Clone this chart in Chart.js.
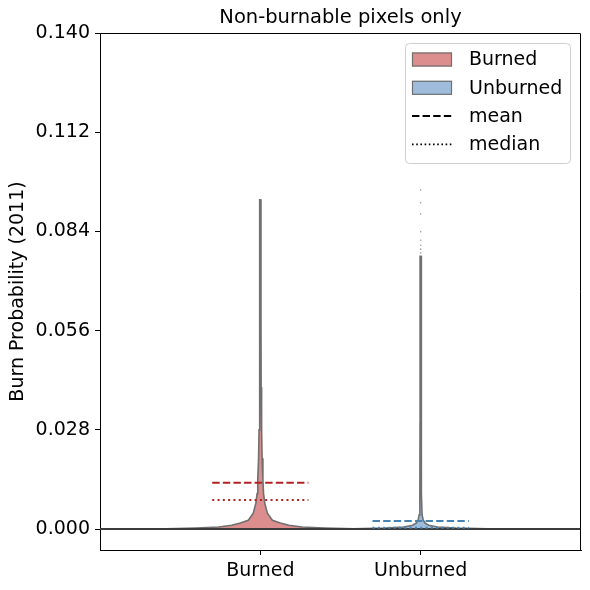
<!DOCTYPE html>
<html lang="en">
<head>
  <meta charset="UTF-8" />
  <title>Non-burnable pixels only</title>
  <script src="https://cdn.jsdelivr.net/npm/chart.js@4"></script>
  <style>
    html, body { margin: 0; padding: 0; background: #fff; }
    #wrap { width: 590px; height: 590px; }
  </style>
</head>
<body>

  <div id="wrap"><canvas id="violin"></canvas></div>

  <script>
    // values
    const categories = ['Burned', 'Unburned'];
    const yTicks = [0, 0.028, 0.056, 0.084, 0.112, 0.140];

    // violin outline: probability level -> half width (in category units)
    const burnedLevels = [0, 0.0003, 0.0006, 0.0011, 0.0017, 0.0025, 0.0045, 0.0073, 0.0100, 0.0140, 0.0200, 0.0280, 0.0400, 0.0600, 0.0800, 0.0929];
    const burnedHalfWidth = [0.65, 0.40, 0.26, 0.178, 0.125, 0.075, 0.044, 0.028, 0.020, 0.016, 0.011, 0.008, 0.005, 0.004, 0.004, 0.003];
    const unburnedLevels = [0, 0.0003, 0.0006, 0.0011, 0.0017, 0.0025, 0.0040, 0.0100, 0.0300, 0.0600, 0.0770];
    const unburnedHalfWidth = [0.49, 0.22, 0.106, 0.05, 0.028, 0.016, 0.009, 0.005, 0.004, 0.004, 0.003];
    const unburnedOutliers = [0.0779, 0.0790, 0.0801, 0.0815, 0.0839, 0.0889, 0.0921, 0.0957];

    const means = [0.0131, 0.0023];
    const medians = [0.0082, 0.0004];

    const legendLabels = ['Burned', 'Unburned', 'mean', 'median'];

    const fills = ['rgba(205,92,92,0.7)', 'rgba(120,160,205,0.7)'];
    const lineColors = ['#b22222', '#4682b4'];
    const edge = '#707070';
    const FONT = 'DejaVu Sans';

    function violinShape(center, levels, hw) {
      const left = levels.map((v, i) => ({ x: center - hw[i], y: v }));
      const right = levels.map((v, i) => ({ x: center + hw[i], y: v })).reverse();
      return left.concat(right);
    }

    function hLine(center, v) {
      return [{ x: center - 0.3, y: v }, { x: center + 0.3, y: v }];
    }

    const datasets = [];
    categories.forEach((c, i) => {
      datasets.push({
        label: c + ' mean', data: hLine(i, means[i]), showLine: true,
        borderColor: lineColors[i], borderWidth: 2, borderDash: [7.4, 3.2],
        pointRadius: 0, order: 0
      });
      datasets.push({
        label: c + ' median', data: hLine(i, medians[i]), showLine: true,
        borderColor: lineColors[i], borderWidth: 2, borderDash: [2, 3.3],
        pointRadius: 0, order: 0
      });
    });
    datasets.push({
      label: 'zero', data: [{ x: -1, y: 0 }, { x: 2, y: 0 }], showLine: true,
      borderColor: '#3c3c3c', borderWidth: 2, pointRadius: 0, order: 1
    });
    datasets.push({
      label: 'Unburned outliers', data: unburnedOutliers.map(v => ({ x: 1, y: v })),
      pointRadius: 0.8, pointBackgroundColor: '#9a9a9a', pointBorderWidth: 0, order: 2
    });
    datasets.push({
      label: 'Burned', data: violinShape(0, burnedLevels, burnedHalfWidth), showLine: true,
      fill: 'shape', backgroundColor: fills[0], borderColor: edge, borderWidth: 1.6,
      pointRadius: 0, tension: 0, order: 3
    });
    datasets.push({
      label: 'Unburned', data: violinShape(1, unburnedLevels, unburnedHalfWidth), showLine: true,
      fill: 'shape', backgroundColor: fills[1], borderColor: edge, borderWidth: 1.6,
      pointRadius: 0, tension: 0, order: 3
    });

    const framePlugin = {
      id: 'frame',
      afterDatasetsDraw(chart) {
        const a = chart.chartArea, ctx = chart.ctx;
        const l = Math.round(a.left), t = Math.round(a.top) + 0.5, r = Math.round(a.right) - 0.5, b = Math.round(a.bottom);
        ctx.save();
        ctx.strokeStyle = '#000';
        ctx.lineWidth = 1;
        ctx.beginPath();
        ctx.moveTo(l, t);
        ctx.lineTo(r, t);
        ctx.lineTo(r, b);
        ctx.stroke();
        // title
        ctx.fillStyle = '#000';
        ctx.font = '19.5px "' + FONT + '"';
        ctx.textAlign = 'center';
        ctx.textBaseline = 'middle';
        ctx.fillText('Non-burnable pixels only', (a.left + a.right) / 2, 18);
        ctx.restore();
      }
    };

    const legendPlugin = {
      id: 'boxLegend',
      afterDraw(chart) {
        const ctx = chart.ctx;
        const x0 = 405.5, y0 = 43.5, w = 165, h = 120, r = 4;
        ctx.save();
        ctx.fillStyle = 'rgba(255,255,255,0.8)';
        ctx.strokeStyle = '#d0d0d0';
        ctx.lineWidth = 1;
        ctx.beginPath();
        ctx.roundRect(x0, y0, w, h, r);
        ctx.fill();
        ctx.stroke();
        ctx.font = '19px "' + FONT + '"';
        ctx.textBaseline = 'middle';
        ctx.textAlign = 'left';
        legendLabels.forEach((lab, i) => {
          const cy = 59.5 + i * 28.3;
          if (i < 2) {
            ctx.fillStyle = fills[i];
            ctx.fillRect(412, cy - 7, 40, 14);
            ctx.strokeStyle = edge;
            ctx.lineWidth = 1.2;
            ctx.strokeRect(412.5, cy - 6.5, 39, 13);
          } else {
            ctx.strokeStyle = '#000';
            ctx.lineWidth = i === 2 ? 2 : 1.6;
            ctx.setLineDash(i === 2 ? [7.4, 3.2] : [1.6, 2.6]);
            ctx.beginPath();
            ctx.moveTo(412, cy);
            ctx.lineTo(452, cy);
            ctx.stroke();
            ctx.setLineDash([]);
          }
          ctx.fillStyle = '#000';
          ctx.fillText(lab, 469, cy + 1);
        });
        ctx.restore();
      }
    };

    new Chart(document.getElementById('violin').getContext('2d'), {
      type: 'scatter',
      data: { datasets },
      plugins: [framePlugin, legendPlugin],
      options: {
        responsive: true,
        maintainAspectRatio: false,
        animation: false,
        layout: { padding: { top: 33, right: 9, left: 0, bottom: 0 } },
        plugins: {
          legend: { display: false },
          tooltip: { enabled: false },
          title: { display: false }
        },
        scales: {
          x: {
            type: 'linear', min: -1, max: 2,
            afterBuildTicks: s => { s.ticks = categories.map((c, i) => ({ value: i })); },
            afterFit: s => { s.height = 40; },
            ticks: {
              callback: v => categories[v], color: '#000', padding: 5,
              font: { family: FONT, size: 19 }, maxRotation: 0
            },
            grid: { drawOnChartArea: false, drawTicks: true, tickLength: 5, color: '#000' },
            border: { display: true, color: '#000', width: 1 }
          },
          y: {
            type: 'linear', min: -0.0059, max: 0.14,
            afterBuildTicks: s => { s.ticks = yTicks.map(v => ({ value: v })); },
            afterFit: s => { s.width = 100; },
            ticks: {
              callback: v => v.toFixed(3), color: '#000', padding: 5,
              font: { family: FONT, size: 19 }
            },
            title: {
              display: true, text: 'Burn Probability (2011)', color: '#000',
              font: { family: FONT, size: 19 }, padding: { top: 7, bottom: 0 }
            },
            grid: { drawOnChartArea: false, drawTicks: true, tickLength: 5, color: '#000' },
            border: { display: true, color: '#000', width: 1 }
          }
        }
      }
    });
  </script>

</body>
</html>
